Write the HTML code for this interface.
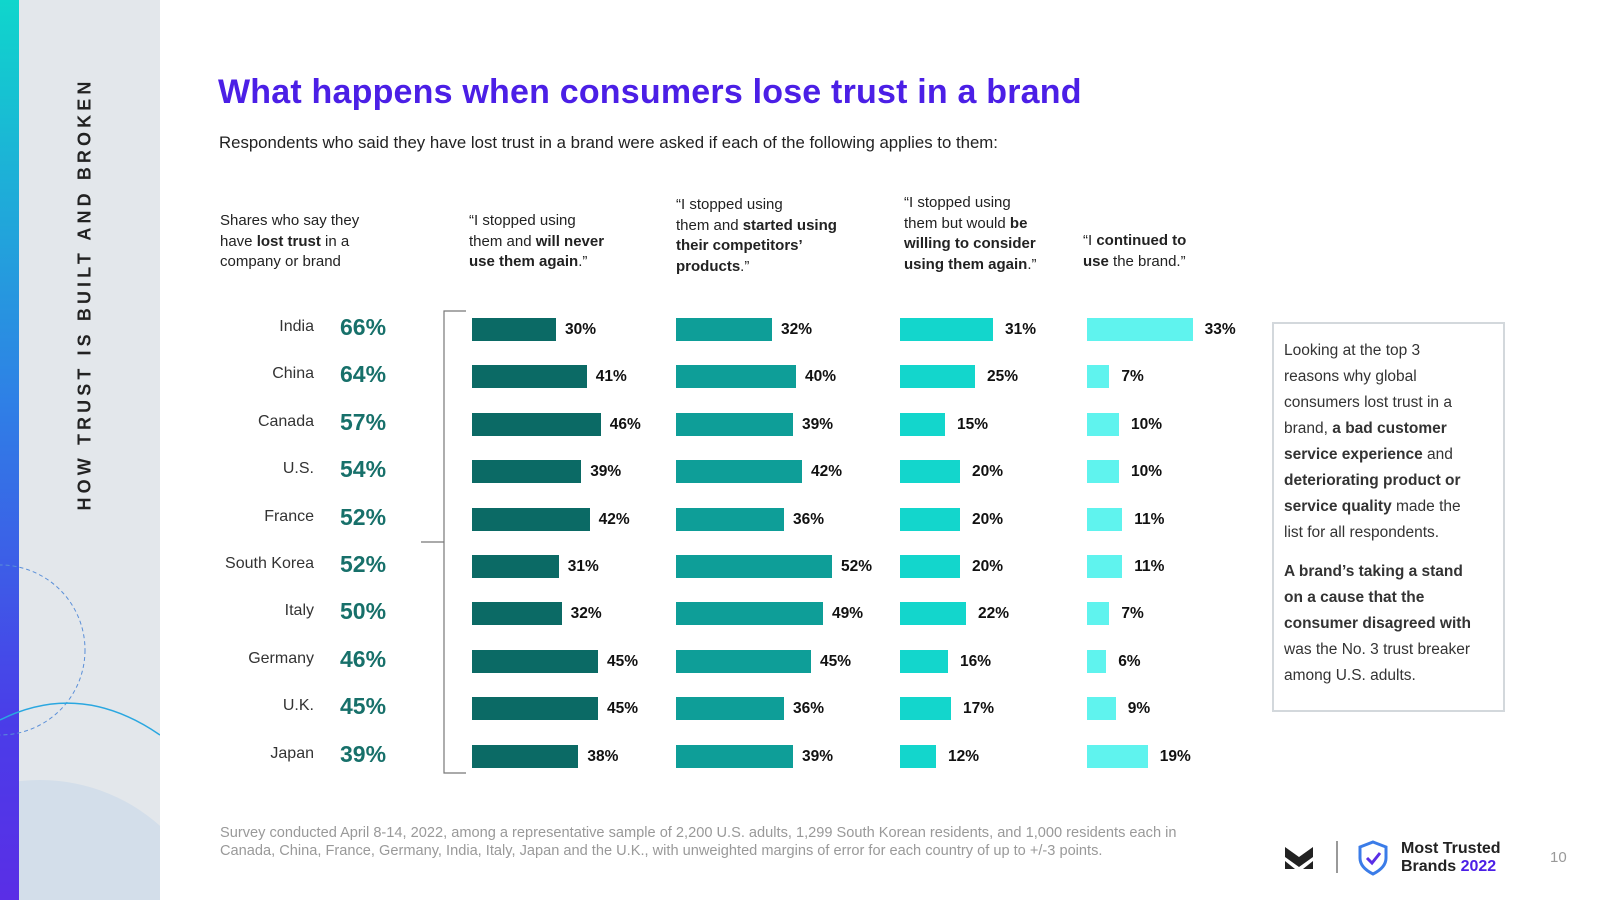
<!DOCTYPE html>
<html><head><meta charset="utf-8">
<style>
*{margin:0;padding:0;box-sizing:border-box}
html,body{width:1600px;height:900px;overflow:hidden}
body{position:relative;background:#fff;font-family:"Liberation Sans",sans-serif;color:#222}
.abs{position:absolute}
.hdr{position:absolute;font-size:15px;line-height:20.5px;color:#222}
.hdr b{font-weight:bold}
.country{position:absolute;right:1286px;font-size:16px;color:#333;text-align:right}
.pct{position:absolute;left:340px;font-size:23px;font-weight:bold;color:#17706a}
.lbl{position:absolute;font-size:15.5px;font-weight:bold;color:#111}
#box{position:absolute;left:1272px;top:322px;width:233px;height:390px;border:2px solid #d3d8dc;padding:14px 10px;font-size:15.5px;line-height:26px;color:#333;white-space:nowrap}
</style></head><body>
<div class="abs" style="left:0;top:0;width:19px;height:900px;background:linear-gradient(#0fd6cc,#2f7fe6 45%,#4a3de8 80%,#5a2ee6)"></div>
<div class="abs" style="left:19px;top:0;width:141px;height:900px;background:#e3e7eb"></div>
<svg class="abs" style="left:0;top:0" width="160" height="900">
<circle cx="0" cy="650" r="85" fill="none" stroke="#5a8fd8" stroke-dasharray="4 3" stroke-width="1"/>
<path d="M0 720 Q80 680 160 735" fill="none" stroke="#2aa7e0" stroke-width="1.5"/>
<clipPath id="cp"><rect x="19" y="0" width="141" height="900"/></clipPath>
<circle cx="40" cy="960" r="180" fill="#d3deea" clip-path="url(#cp)"/>
</svg>
<div class="abs" style="left:85px;top:294px;transform:translate(-50%,-50%) rotate(-90deg);white-space:nowrap;font-size:18px;font-weight:bold;letter-spacing:4.1px;color:#222">HOW TRUST IS BUILT AND BROKEN</div>

<div class="abs" style="left:218px;top:73px;font-size:34px;letter-spacing:0.2px;font-weight:bold;color:#4b1fe6;white-space:nowrap">What happens when consumers lose trust in a brand</div>
<div class="abs" style="left:219px;top:133px;font-size:16.8px;color:#222;white-space:nowrap">Respondents who said they have lost trust in a brand were asked if each of the following applies to them:</div>

<div class="hdr" style="left:220px;top:211px">Shares who say they<br>have <b>lost trust</b> in a<br>company or brand</div>
<div class="hdr" style="left:469px;top:211px">“I stopped using<br>them and <b>will never<br>use them again</b>.”</div>
<div class="hdr" style="left:676px;top:195px">“I stopped using<br>them and <b>started using<br>their competitors’<br>products</b>.”</div>
<div class="hdr" style="left:904px;top:193px">“I stopped using<br>them but would <b>be<br>willing to consider<br>using them again</b>.”</div>
<div class="hdr" style="left:1083px;top:231px">“I <b>continued to<br>use</b> the brand.”</div>

<svg class="abs" style="left:0;top:0" width="1600" height="900">
<path d="M466 311 H444 V773 H466 M444 542 H421" fill="none" stroke="#777" stroke-width="1.2"/>
</svg>
<div id="chart"></div>

<div id="box">Looking at the top 3<br>reasons why global<br>consumers lost trust in a<br>brand, <b>a bad customer<br>service experience</b> and<br><b>deteriorating product or<br>service quality</b> made the<br>list for all respondents.<div style="height:13px"></div><b>A brand’s taking a stand<br>on a cause that the<br>consumer disagreed with</b><br>was the No. 3 trust breaker<br>among U.S. adults.</div>

<div class="abs" style="left:220px;top:824px;font-size:14.6px;line-height:18px;color:#999;white-space:nowrap">Survey conducted April 8-14, 2022, among a representative sample of 2,200 U.S. adults, 1,299 South Korean residents, and 1,000 residents each in<br>Canada, China, France, Germany, India, Italy, Japan and the U.K., with unweighted margins of error for each country of up to +/-3 points.</div>

<svg class="abs" style="left:1283px;top:843px" width="34" height="30"><path d="M2 4 L16 14 L30 4 V14 L16 24 L2 14Z M2 18 L12 26 H2Z M30 18 V26 H20Z" fill="#222"/></svg>
<div class="abs" style="left:1336px;top:841px;width:1.5px;height:32px;background:#999"></div>
<svg class="abs" style="left:1357px;top:840px" width="32" height="36"><path d="M16 2 L29 7 V18 C29 26 22 31 16 34 C10 31 3 26 3 18 V7Z" fill="none" stroke="#3b7ce8" stroke-width="3"/><path d="M10 18 L15 23 L23 13" fill="none" stroke="#5a2ee6" stroke-width="3"/></svg>
<div class="abs" style="left:1401px;top:840px;font-size:16px;font-weight:bold;line-height:18px;color:#222">Most Trusted<br>Brands <span style="color:#4b1fe6">2022</span></div>
<div class="abs" style="left:1550px;top:849px;font-size:15px;color:#999">10</div>

<script>
const countries=["India","China","Canada","U.S.","France","South Korea","Italy","Germany","U.K.","Japan"];
const lostTrust=[66,64,57,54,52,52,50,46,45,39];
const neverAgain=[30,41,46,39,42,31,32,45,45,38];
const competitors=[32,40,39,42,36,52,49,45,36,39];
const considerAgain=[31,25,15,20,20,20,22,16,17,12];
const continued=[33,7,10,10,11,11,7,6,9,19];
const series=[neverAgain,competitors,considerAgain,continued];
const seriesNames=["never-again","competitors","consider-again","continued"];
const colStart=[472,676,900,1087];
const colScale=[2.8,3.0,3.0,3.2];
const colColor=["#0b6a65","#0e9e98","#13d6cc","#5ff3ee"];
const chart=document.getElementById('chart');
function rowY(i){return 328+i*47.4;}
countries.forEach((c,i)=>{
  const y=rowY(i);
  const n=document.createElement('div');n.className='country';n.style.top=(y-10)+'px';n.textContent=c;
  
  
  chart.appendChild(n);
  const p=document.createElement('div');p.className='pct';p.style.top=(y-14)+'px';p.textContent=lostTrust[i]+'%';
  
  
  chart.appendChild(p);
  series.forEach((s,k)=>{
    const w=s[i]*colScale[k];
    const b=document.createElement('div');b.className='abs';
    b.style.cssText=`left:${colStart[k]}px;top:${y-10}px;width:${w}px;height:23px;background:${colColor[k]}`;
    
    
    chart.appendChild(b);
    const l=document.createElement('div');l.className='lbl';
    l.style.left=(colStart[k]+w+(k>=2?12:9))+'px';l.style.top=(y-7)+'px';l.textContent=s[i]+'%';
    
    
    chart.appendChild(l);
  });
});
</script>
</body></html>
